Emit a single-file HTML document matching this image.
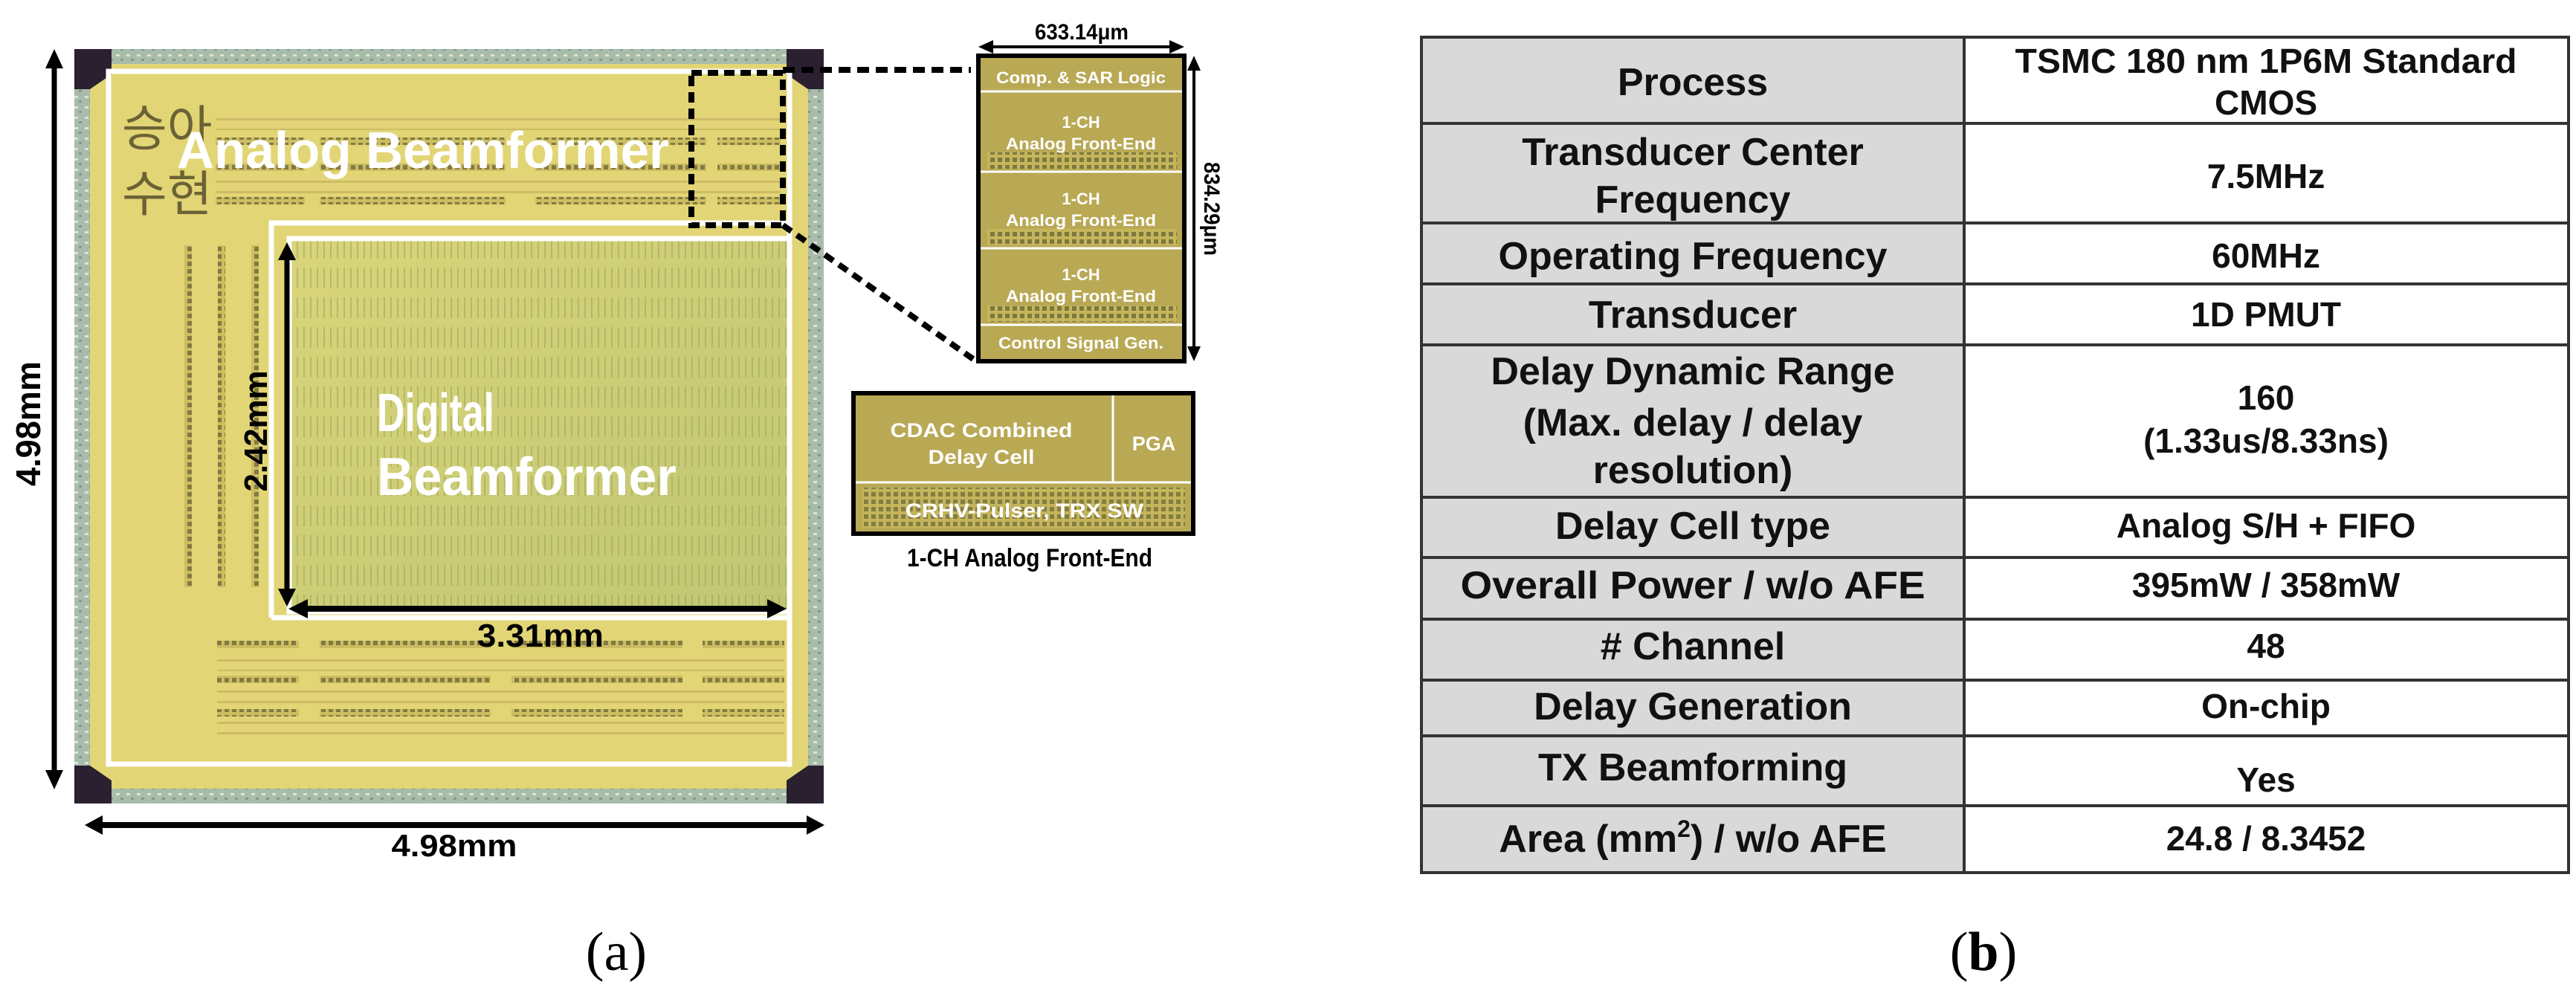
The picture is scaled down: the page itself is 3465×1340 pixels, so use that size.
<!DOCTYPE html>
<html><head><meta charset="utf-8"><style>
html,body{margin:0;padding:0;background:#fff;}
svg{display:block;}
text{font-family:"Liberation Sans",Arial,sans-serif;font-weight:bold;}
</style></head><body>
<svg width="3465" height="1340" viewBox="0 0 3465 1340" xmlns="http://www.w3.org/2000/svg">
<defs>
<pattern id="ring" width="14" height="14" patternUnits="userSpaceOnUse">
<rect width="14" height="14" fill="#a9bcaa"/><rect x="2" y="3" width="5" height="3" fill="#d8e6d6"/><rect x="8" y="9" width="4" height="3" fill="#7f9a8c"/>
</pattern>
<pattern id="dots" width="10" height="10" patternUnits="userSpaceOnUse">
<rect width="10" height="10" fill="#c8b95e"/><rect x="2" y="2" width="6" height="6" fill="#6f6a3a"/>
</pattern>
<pattern id="vl" width="9" height="40" patternUnits="userSpaceOnUse">
<rect width="9" height="40" fill="none"/><rect x="3" y="0" width="2" height="28" fill="#9ea35a" opacity="0.55"/>
</pattern>
<pattern id="rows" width="20" height="14" patternUnits="userSpaceOnUse">
<rect width="20" height="14" fill="#e2d47a"/><rect y="5" width="20" height="3" fill="#b7a556"/>
</pattern>
<linearGradient id="dg" x1="0" y1="0" x2="1" y2="1"><stop offset="0" stop-color="#dad57a"/><stop offset="1" stop-color="#bfc672"/></linearGradient>
</defs>

<rect x="100" y="66" width="1008" height="1015" fill="url(#ring)"/>
<rect x="121" y="86" width="966" height="975" fill="#e2d575"/>
<polygon points="100,66 150,66 150,100 121,120 100,120" fill="#2a2030"/>
<polygon points="1108,66 1058,66 1058,100 1087,120 1108,120" fill="#2a2030"/>
<polygon points="100,1081 150,1081 150,1050 121,1030 100,1030" fill="#2a2030"/>
<polygon points="1108,1081 1058,1081 1058,1050 1087,1030 1108,1030" fill="#2a2030"/>

<g opacity="0.85">
<rect x="290" y="185" width="120" height="10" fill="url(#dots)"/><rect x="430" y="185" width="250" height="10" fill="url(#dots)"/><rect x="720" y="185" width="230" height="10" fill="url(#dots)"/><rect x="965" y="185" width="85" height="10" fill="url(#dots)"/>
<rect x="290" y="220" width="120" height="10" fill="url(#dots)"/><rect x="430" y="220" width="250" height="10" fill="url(#dots)"/><rect x="720" y="220" width="230" height="10" fill="url(#dots)"/><rect x="965" y="220" width="85" height="10" fill="url(#dots)"/>
<rect x="290" y="265" width="120" height="10" fill="url(#dots)"/><rect x="430" y="265" width="250" height="10" fill="url(#dots)"/><rect x="720" y="265" width="230" height="10" fill="url(#dots)"/><rect x="965" y="265" width="85" height="10" fill="url(#dots)"/>
<rect x="290" y="150" width="760" height="25" fill="url(#rows)" opacity="0.6"/>
<rect x="290" y="235" width="760" height="25" fill="url(#rows)" opacity="0.6"/>
<rect x="248" y="330" width="10" height="460" fill="url(#dots)"/><rect x="293" y="330" width="10" height="460" fill="url(#dots)"/><rect x="338" y="330" width="10" height="460" fill="url(#dots)"/>
<rect x="292" y="862" width="110" height="10" fill="url(#dots)"/><rect x="430" y="862" width="230" height="10" fill="url(#dots)"/><rect x="688" y="862" width="230" height="10" fill="url(#dots)"/><rect x="945" y="862" width="110" height="10" fill="url(#dots)"/>
<rect x="292" y="909" width="110" height="10" fill="url(#dots)"/><rect x="430" y="909" width="230" height="10" fill="url(#dots)"/><rect x="688" y="909" width="230" height="10" fill="url(#dots)"/><rect x="945" y="909" width="110" height="10" fill="url(#dots)"/>
<rect x="292" y="954" width="110" height="10" fill="url(#dots)"/><rect x="430" y="954" width="230" height="10" fill="url(#dots)"/><rect x="688" y="954" width="230" height="10" fill="url(#dots)"/><rect x="945" y="954" width="110" height="10" fill="url(#dots)"/>
<rect x="292" y="878" width="763" height="25" fill="url(#rows)" opacity="0.6"/>
<rect x="292" y="923" width="763" height="25" fill="url(#rows)" opacity="0.6"/>
<rect x="292" y="968" width="763" height="25" fill="url(#rows)" opacity="0.6"/>
</g>

<rect x="389" y="321" width="673" height="502" fill="url(#dg)"/>
<rect x="389" y="321" width="673" height="502" fill="url(#vl)"/>

<rect x="146" y="96" width="916" height="932" fill="none" stroke="#fff" stroke-width="7"/>
<polyline points="365,831 365,300 1062,300" fill="none" stroke="#fff" stroke-width="7"/>
<polyline points="365,831 1062,831" fill="none" stroke="#fff" stroke-width="7"/>
<rect x="389" y="321" width="673" height="502" fill="none" stroke="#fff" stroke-width="7"/>

<text x="164" y="196" style="font-family:'Noto Sans CJK KR',NanumGothic,sans-serif;font-weight:normal" font-size="66" fill="#6b6336">승아</text>
<text x="164" y="284" style="font-family:'Noto Sans CJK KR',NanumGothic,sans-serif;font-weight:normal" font-size="66" fill="#6b6336">수현</text>

<text x="238" y="226" font-size="70" fill="#fff" textLength="662" lengthAdjust="spacingAndGlyphs">Analog Beamformer</text>
<text x="507" y="580" font-size="72" fill="#fff" textLength="158" lengthAdjust="spacingAndGlyphs">Digital</text>
<text x="507" y="666" font-size="72" fill="#fff" textLength="403" lengthAdjust="spacingAndGlyphs">Beamformer</text>

<line x1="386" y1="345" x2="386" y2="795" stroke="#000" stroke-width="7"/>
<polygon points="386,326 374,350 398,350" fill="#000"/>
<polygon points="386,816 374,792 398,792" fill="#000"/>
<line x1="410" y1="819" x2="1036" y2="819" stroke="#000" stroke-width="8"/>
<polygon points="388,819 414,806 414,832" fill="#000"/>
<polygon points="1058,819 1032,806 1032,832" fill="#000"/>
<text x="727" y="870" font-size="44" fill="#000" text-anchor="middle" textLength="170" lengthAdjust="spacingAndGlyphs">3.31mm</text>
<text transform="translate(359,580) rotate(-90)" font-size="44" fill="#000" text-anchor="middle" textLength="163" lengthAdjust="spacingAndGlyphs">2.42mm</text>

<line x1="73" y1="88" x2="73" y2="1040" stroke="#000" stroke-width="7"/>
<polygon points="73,66 61,92 85,92" fill="#000"/>
<polygon points="73,1062 61,1036 85,1036" fill="#000"/>
<text transform="translate(54,570) rotate(-90)" font-size="46" fill="#000" text-anchor="middle" textLength="168" lengthAdjust="spacingAndGlyphs">4.98mm</text>
<line x1="138" y1="1110" x2="1086" y2="1110" stroke="#000" stroke-width="8"/>
<polygon points="114,1110 138,1097 138,1123" fill="#000"/>
<polygon points="1109,1110 1085,1097 1085,1123" fill="#000"/>
<text x="611" y="1152" font-size="42" fill="#000" text-anchor="middle" textLength="169" lengthAdjust="spacingAndGlyphs">4.98mm</text>

<rect x="930" y="98" width="123" height="205" fill="none" stroke="#000" stroke-width="8" stroke-dasharray="14,8"/>
<line x1="1053" y1="94" x2="1306" y2="94" stroke="#000" stroke-width="8" stroke-dasharray="16,9"/>
<line x1="1053" y1="303" x2="1316" y2="488" stroke="#000" stroke-width="8" stroke-dasharray="14,9"/>

<rect x="1316" y="75" width="277" height="411" fill="#b9a955" stroke="#000" stroke-width="6"/>
<rect x="1328" y="205" width="255" height="22" fill="url(#dots)" opacity="0.8"/>
<rect x="1328" y="308" width="255" height="22" fill="url(#dots)" opacity="0.8"/>
<rect x="1328" y="411" width="255" height="22" fill="url(#dots)" opacity="0.8"/>
<g stroke="#fff" stroke-width="3"><line x1="1319" y1="123" x2="1590" y2="123"/><line x1="1319" y1="231" x2="1590" y2="231"/><line x1="1319" y1="334" x2="1590" y2="334"/><line x1="1319" y1="437" x2="1590" y2="437"/></g>
<g fill="#fff" text-anchor="middle" font-size="22">
<text x="1454" y="112" textLength="228" lengthAdjust="spacingAndGlyphs">Comp. &amp; SAR Logic</text>
<text x="1454" y="172">1-CH</text><text x="1454" y="201" textLength="202" lengthAdjust="spacingAndGlyphs">Analog Front-End</text>
<text x="1454" y="275">1-CH</text><text x="1454" y="304" textLength="202" lengthAdjust="spacingAndGlyphs">Analog Front-End</text>
<text x="1454" y="377">1-CH</text><text x="1454" y="406" textLength="202" lengthAdjust="spacingAndGlyphs">Analog Front-End</text>
<text x="1454" y="469" textLength="222" lengthAdjust="spacingAndGlyphs">Control Signal Gen.</text>
</g>
<line x1="1334" y1="63" x2="1575" y2="63" stroke="#000" stroke-width="4"/>
<polygon points="1316,63 1336,54 1336,72" fill="#000"/><polygon points="1593,63 1573,54 1573,72" fill="#000"/>
<text x="1455" y="53" font-size="30" fill="#000" text-anchor="middle" textLength="126" lengthAdjust="spacingAndGlyphs">633.14μm</text>
<line x1="1606" y1="93" x2="1606" y2="468" stroke="#000" stroke-width="4"/>
<polygon points="1606,75 1597,95 1615,95" fill="#000"/><polygon points="1606,486 1597,466 1615,466" fill="#000"/>
<text transform="translate(1620,281) rotate(90)" font-size="30" fill="#000" text-anchor="middle" textLength="126" lengthAdjust="spacingAndGlyphs">834.29μm</text>

<rect x="1148" y="529" width="457" height="189" fill="#b9a955" stroke="#000" stroke-width="6"/>
<rect x="1160" y="656" width="434" height="54" fill="url(#dots)" opacity="0.7"/>
<line x1="1151" y1="649" x2="1602" y2="649" stroke="#fff" stroke-width="3"/>
<line x1="1497" y1="532" x2="1497" y2="649" stroke="#fff" stroke-width="3"/>
<g fill="#fff" text-anchor="middle" font-size="27">
<text x="1320" y="588" textLength="245" lengthAdjust="spacingAndGlyphs">CDAC Combined</text>
<text x="1320" y="624" textLength="143" lengthAdjust="spacingAndGlyphs">Delay Cell</text>
<text x="1552" y="606">PGA</text>
<text x="1378" y="696" textLength="320" lengthAdjust="spacingAndGlyphs">CRHV-Pulser, TRX SW</text>
</g>
<text x="1385" y="762" font-size="34" fill="#000" text-anchor="middle" textLength="330" lengthAdjust="spacingAndGlyphs">1-CH Analog Front-End</text>

<text x="829" y="1305" style="font-family:'Liberation Serif',serif;font-weight:normal" font-size="74" fill="#000" text-anchor="middle">(a)</text>
<text x="2668" y="1305" style="font-family:'Liberation Serif',serif;font-weight:normal" font-size="74" fill="#000" text-anchor="middle">(<tspan style="font-weight:bold">b</tspan>)</text>

<rect x="1912" y="50" width="730" height="1124" fill="#d9d9d9"/>
<rect x="2642" y="50" width="813" height="1124" fill="#fff"/>
<g stroke="#333" stroke-width="4" fill="none">
<rect x="1912" y="50" width="1543" height="1124"/>
<line x1="2642" y1="50" x2="2642" y2="1174"/>
<line x1="1912" y1="166" x2="3455" y2="166"/><line x1="1912" y1="300" x2="3455" y2="300"/>
<line x1="1912" y1="382" x2="3455" y2="382"/><line x1="1912" y1="464" x2="3455" y2="464"/>
<line x1="1912" y1="669" x2="3455" y2="669"/><line x1="1912" y1="750" x2="3455" y2="750"/>
<line x1="1912" y1="833" x2="3455" y2="833"/><line x1="1912" y1="915" x2="3455" y2="915"/>
<line x1="1912" y1="990" x2="3455" y2="990"/><line x1="1912" y1="1084" x2="3455" y2="1084"/>
</g>
<g fill="#111" text-anchor="middle" font-size="52">
<text x="2277" y="128">Process</text>
<text x="2277" y="222">Transducer Center</text><text x="2277" y="286">Frequency</text>
<text x="2277" y="362">Operating Frequency</text>
<text x="2277" y="441">Transducer</text>
<text x="2277" y="517">Delay Dynamic Range</text>
<text x="2277" y="586">(Max. delay / delay</text>
<text x="2277" y="650">resolution)</text>
<text x="2277" y="725">Delay Cell type</text>
<text x="2277" y="805" textLength="625" lengthAdjust="spacingAndGlyphs">Overall Power / w/o AFE</text>
<text x="2277" y="887"># Channel</text>
<text x="2277" y="968">Delay Generation</text>
<text x="2277" y="1050">TX Beamforming</text>
<text x="2277" y="1146">Area (mm<tspan font-size="32" dy="-20">2</tspan><tspan dy="20">) / w/o AFE</tspan></text>
</g>
<g fill="#111" text-anchor="middle" font-size="46">
<text x="3048" y="98" textLength="675" lengthAdjust="spacingAndGlyphs">TSMC 180 nm 1P6M Standard</text>
<text x="3048" y="154">CMOS</text>
<text x="3048" y="253">7.5MHz</text>
<text x="3048" y="360">60MHz</text>
<text x="3048" y="439">1D PMUT</text>
<text x="3048" y="551">160</text>
<text x="3048" y="609">(1.33us/8.33ns)</text>
<text x="3048" y="723">Analog S/H + FIFO</text>
<text x="3048" y="803">395mW / 358mW</text>
<text x="3048" y="885">48</text>
<text x="3048" y="966">On-chip</text>
<text x="3048" y="1065">Yes</text>
<text x="3048" y="1144">24.8 / 8.3452</text>
</g>
</svg>
</body></html>
